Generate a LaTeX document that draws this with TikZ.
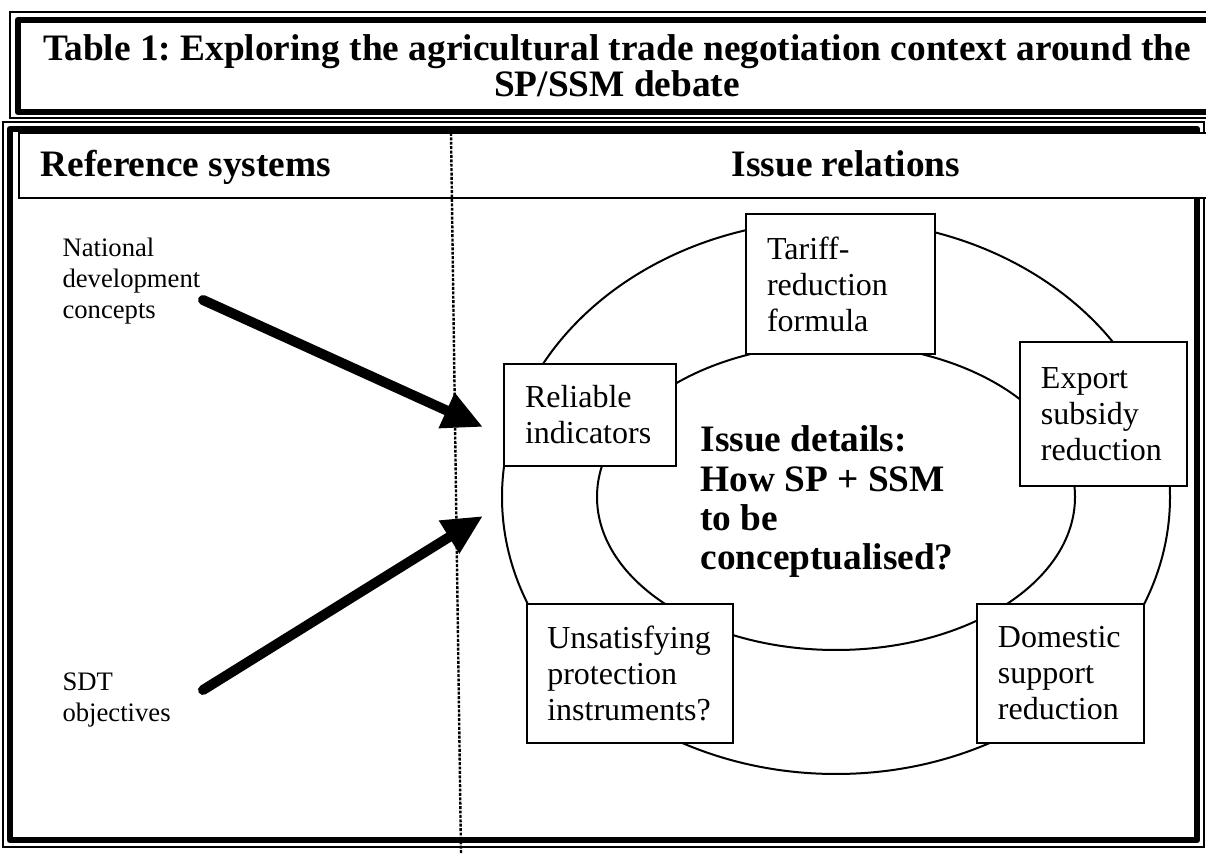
\documentclass[tikz,border=0pt]{standalone}
\usepackage{fontspec}
\setmainfont{Liberation Serif}
\usetikzlibrary{arrows.meta}
\frenchspacing

\begin{document}
\begin{tikzpicture}[x=0.375pt, y=-0.375pt,
    thinframe/.style={line width=0.7pt},
    thickframe/.style={line width=2.6pt, line join=round},
    ring/.style={line width=0.75pt},
    issuebox/.style={draw, fill=white, line width=0.75pt, inner sep=0pt, align=left,
      font=\fontsize{12}{13.5}\selectfont},
    sidetext/.style={anchor=west, inner sep=0pt, align=left, font=\fontsize{10}{11.6}\selectfont},
    headtext/.style={anchor=base, inner sep=0pt, font=\bfseries\fontsize{14}{16}\selectfont},
    flowarrow/.style={line width=3.75pt, line cap=round, -{Triangle[length=15pt, width=13.5pt]}}]

    \useasboundingbox (0,0) rectangle (1206,854);
    \clip (0,0) rectangle (1206,854);

    % Title frame (thin outside, thick inside)
    \draw[thinframe] (10,12) rectangle (1225,118);
    \draw[thickframe] (18,20) rectangle (1225,112);
    \node[align=center, inner sep=0pt, font=\bfseries\fontsize{14}{13.5}\selectfont] (title) at (617,66)
        {Table 1: Exploring the agricultural trade negotiation context around the\\SP/SSM debate};

    % Main frame
    \draw[thinframe] (3,122) rectangle (1204,847);
    \draw[thickframe] (10,129) rectangle (1197,840);

    % Header row
    \draw[line width=0.75pt, fill=white] (19,133) rectangle (1225,198);
    \node[headtext, anchor=base west] (refhead) at (40,177) {Reference systems};
    \node[headtext] (relhead) at (846,177) {Issue relations};

    % Ring of issues
    \coordinate (hub) at (836,497);
    \draw[ring] (hub) ellipse [x radius=334, y radius=277];
    \draw[ring] (hub) ellipse [x radius=239, y radius=153];

    % Issue boxes on the ring
    \node[issuebox, minimum width=70.9pt, minimum height=52.5pt, text width=55.1pt] (tariff) at (840.5,284)
        {Tariff-\\reduction\\formula};
    \node[issuebox, minimum width=64.5pt, minimum height=38.25pt, text width=48.75pt] (reliable) at (590,415)
        {Reliable\\indicators};
    \node[issuebox, minimum width=62.6pt, minimum height=54pt, text width=46.9pt] (export) at (1103.5,414)
        {Export\\subsidy\\reduction};
    \node[issuebox, minimum width=77.25pt, minimum height=52.1pt, text width=62pt] (protect) at (630,673.5)
        {Unsatisfying\\protection\\instruments?};
    \node[issuebox, minimum width=62.6pt, minimum height=52.1pt, text width=46.9pt] (domestic) at (1060.5,673.5)
        {Domestic\\support\\reduction};

    % Centre question
    \node[anchor=west, inner sep=0pt, align=left, font=\bfseries\fontsize{14}{14.75}\selectfont] (details) at (700,502)
        {Issue details:\\How SP + SSM\\to be\\conceptualised?};

    % Dividing line
    \coordinate (divtop) at (451,133);
    \coordinate (divbot) at (461,854);
    \draw[line width=0.9pt, dash pattern=on 1.1pt off 0.55pt] (divtop) -- (divbot);

    % Reference systems
    \node[sidetext] (natdev) at (62,281) {National\\development\\concepts};
    \node[sidetext] (sdt) at (62,700) {SDT\\objectives};

    % Flow arrows into the ring
    \coordinate (natTail) at (203,300);
    \coordinate (natTip) at (483,427);
    \coordinate (sdtTail) at (203,690);
    \coordinate (sdtTip) at (483,516);
    \draw[flowarrow] (natTail) -- (natTip);
    \draw[flowarrow] (sdtTail) -- (sdtTip);
\end{tikzpicture}
\end{document}
